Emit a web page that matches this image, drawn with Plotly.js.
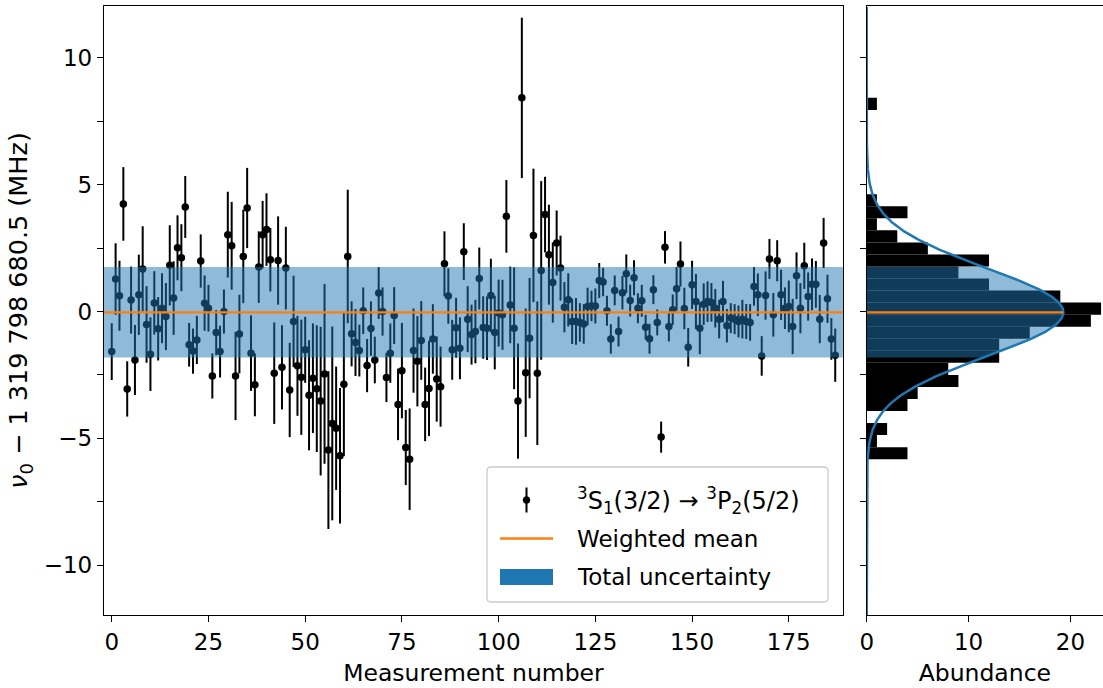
<!DOCTYPE html>
<html><head><meta charset="utf-8">
<script src="https://cdn.plot.ly/plotly-3.0.1.min.js"></script>
<style>html,body{margin:0;padding:0;background:#fff}#chart{width:1103px;height:688px}</style>
</head><body><div id="chart"></div>
<script>
// Measurement numbers
const measurementNumber = [0,1,2,3,4,5,6,7,8,9,10,11,12,13,14,15,16,17,18,19,20,21,22,23,24,25,26,27,28,29,30,31,32,33,34,35,36,37,38,39,40,41,42,43,44,45,46,47,48,49,50,51,52,53,54,55,56,57,58,59,60,61,62,63,64,65,66,67,68,69,70,71,72,73,74,75,76,77,78,79,80,81,82,83,84,85,86,87,88,89,90,91,92,93,94,95,96,97,98,99,100,101,102,103,104,105,106,107,108,109,110,111,112,113,114,115,116,117,118,119,120,121,122,123,124,125,126,127,128,129,130,131,132,133,134,135,136,137,138,139,140,141,142,143,144,145,146,147,148,149,150,151,152,153,154,155,156,157,158,159,160,161,162,163,164,165,166,167,168,169,170,171,172,173,174,175,176,177,178,179,180,181,182,183,184,185,186,187];
// nu0 - 1 319 798 680.5 (MHz)
const nuOffset = [-1.58,1.28,0.62,4.24,-3.05,0.45,-1.91,0.66,1.68,-0.51,-1.68,0.34,-0.68,0.13,-0.2,1.82,0.53,2.51,2.12,4.12,-1.31,-1.56,-1.12,1.99,0.33,0.13,-2.54,-0.83,-1.58,0.0,3.03,2.59,-2.54,-0.89,2.17,4.08,-1.64,-2.89,1.75,3.03,3.23,2.04,-2.43,2.01,-2.2,1.71,-3.09,-0.39,-2.14,-2.59,-1.51,-3.3,-2.63,-3.04,-3.53,-2.46,-5.46,-4.41,-4.6,-5.68,-2.87,2.17,-0.88,-1.22,-1.54,0.03,-2.13,-0.67,-1.91,0.73,0.0,-2.6,-1.64,-0.16,-3.66,-2.33,-5.36,-5.82,-1.54,-1.96,-1.14,-3.66,-3.03,-1.08,-2.66,-2.96,1.88,0.61,-1.51,-0.64,-1.45,2.36,-0.3,-0.91,-0.79,1.3,-0.63,-0.66,0.63,-0.83,-0.06,-0.13,3.75,0.26,-0.66,-3.53,8.42,-2.41,-1.05,3.0,-2.43,1.62,3.82,2.24,1.14,2.7,1.71,0.17,0.46,-0.39,-0.39,-0.43,-0.49,0.2,0.22,0.22,1.22,1.16,0.03,-1.08,0.83,-0.79,0.74,1.49,0.43,1.33,0.13,0.42,-0.62,-1.07,0.86,-0.43,-4.95,2.53,-0.59,0.07,0.9,1.87,0.12,-1.41,1.05,0.39,-0.66,0.29,0.39,0.36,0.13,-0.3,0.39,-0.56,-0.26,-0.3,-0.39,-0.3,-0.39,-0.43,0.99,0.66,-1.75,0.63,2.07,-0.13,2.0,0.66,0.13,0.2,-0.59,1.41,0.13,1.8,0.59,1.07,1.07,-0.3,2.7,0.5,-1.08,-1.72];
// 1-sigma uncertainties (MHz)
const nuError = [1.12,1.41,1.38,1.45,1.09,1.32,1.38,1.58,1.68,1.51,1.45,1.25,1.25,1.38,1.32,1.58,1.45,1.28,1.32,1.22,0.86,0.89,0.95,1.05,1.09,0.92,0.89,0.89,1.02,0.87,1.69,1.73,1.74,1.55,1.84,1.58,1.49,1.24,1.41,1.33,1.43,1.25,2.0,1.74,1.66,1.63,1.86,1.8,1.97,2.27,1.3,2.17,2.16,2.5,2.93,3.54,3.11,3.82,2.43,2.67,2.83,2.63,1.28,1.32,1.02,0.92,1.05,1.07,0.92,1.02,0.95,0.97,1.17,1.12,1.41,1.88,1.48,2.0,1.66,1.78,1.55,1.45,1.88,1.37,1.68,1.58,1.28,1.09,1.18,1.18,1.22,1.12,1.3,1.18,1.25,1.22,1.23,1.25,1.45,1.45,1.32,1.38,1.43,1.51,2.4,2.27,3.16,2.53,2.37,2.63,2.83,3.52,1.49,1.97,1.58,1.28,1.28,0.99,1.05,0.89,0.92,0.76,0.78,0.74,0.6,0.69,0.69,0.56,0.59,0.58,0.59,0.59,0.66,0.76,0.63,0.69,0.59,0.63,0.49,0.59,0.57,0.51,0.61,0.64,0.59,0.6,0.86,0.89,0.82,0.76,0.95,1.09,1.02,0.82,0.8,0.76,0.76,0.76,0.82,0.66,0.59,0.59,0.63,0.76,0.69,0.72,0.76,0.84,0.78,0.95,0.79,0.86,0.81,0.99,0.82,1.02,1.09,0.92,0.99,0.91,0.95,1.02,0.92,0.95,0.99,0.95,0.82,1.05];

// Summary values
const weightedMean = -0.03;
const totalUncertainty = 1.785;

// Histogram (30 bins from min to max of the data), counts from lowest bin upward
const binStart = -5.82;
const binWidth = 0.4747;
const binCounts = [4,1,2,0,4,5,9,8,13,13,16,22,23,19,12,9,12,6,3,1,4,1,0,0,0,0,0,0,0,1];

// Gaussian model drawn on the histogram
const fitMean = -0.03;
const fitSigma = 1.75;
const fitPeak = 19.3;

// Texts
const seriesName = '<sup>3</sup>S<sub>1</sub>(3/2) → <sup>3</sup>P<sub>2</sub>(5/2)';
const meanName = 'Weighted mean';
const bandName = 'Total uncertainty';
const yTitle = '<i>ν</i><sub>0</sub> − 1 319 798 680.5 (MHz)';

const tickValsX = [0,25,50,75,100,125,150,175];
const tickValsY = [-10,-5,0,5,10];
const minorY = [-7.5,-2.5,2.5,7.5];
const tickValsH = [0,10,20];

const blue = '#1f77b4', orange = '#ff7f0e';
const FONT = 'DejaVu Sans';

const binCenters = binCounts.map((c,i) => binStart + (i + 0.5) * binWidth);
const gauss = y => fitPeak * Math.exp(-0.5 * ((y - fitMean) / fitSigma) ** 2);
const curveY = [];
for (let y = -12; y <= 12.0001; y += 0.04) curveY.push(y);
const curveX = curveY.map(gauss);

const lo = weightedMean - totalUncertainty, hi = weightedMean + totalUncertainty;
const fillY = [lo], fillX = [0];
for (let y = lo; y <= hi + 1e-9; y += 0.02) { fillY.push(y); fillX.push(gauss(y)); }
fillY.push(hi); fillX.push(gauss(hi)); fillY.push(hi); fillX.push(0);

const traces = [
  {type:'scatter', mode:'markers', x:measurementNumber, y:nuOffset,
   error_y:{type:'data', array:nuError, visible:true, color:'black', thickness:2, width:0},
   marker:{color:'black', size:7.5}, name:seriesName, showlegend:false, xaxis:'x', yaxis:'y'},
  {type:'bar', orientation:'h', x:binCounts, y:binCenters, width:binWidth,
   marker:{color:'black', line:{width:0}}, showlegend:false, xaxis:'x2', yaxis:'y2'},
  {type:'scatter', mode:'none', x:fillX, y:fillY, fill:'toself', fillcolor:'rgba(31,119,180,0.5)',
   showlegend:false, xaxis:'x2', yaxis:'y2', hoverinfo:'skip'},
  {type:'scatter', mode:'lines', x:curveX, y:curveY, line:{color:blue, width:2.5},
   showlegend:false, xaxis:'x2', yaxis:'y2'},
  {type:'scatter', mode:'lines', x:[0, gauss(weightedMean)], y:[weightedMean, weightedMean],
   line:{color:orange, width:2.3}, showlegend:false, xaxis:'x2', yaxis:'y2'}
];

const axCommon = {showgrid:false, zeroline:false, linecolor:'black', linewidth:1.3,
  ticks:'outside', ticklen:6, tickwidth:1.3, tickcolor:'black', tickfont:{size:23}};

// plotting area in pixels (margins) -> helpers for the legend box in paper coordinates
const M = {l:104, r:0, t:6, b:73}, W = 1103, H = 688;
const px = v => (v - M.l) / (W - M.l - M.r);
const py = v => (H - M.b - v) / (H - M.t - M.b);

// legend geometry (pixels)
const LG = {x0:487, x1:828, y0:467, y1:602, r:4, sym0:500, sym1:553, text:575, rows:[500, 538.5, 577]};
const rx = LG.r / (W - M.l - M.r), ry = LG.r / (H - M.t - M.b);
const bx0 = px(LG.x0), bx1 = px(LG.x1), by0 = py(LG.y1), by1 = py(LG.y0);
const boxPath = `M${bx0+rx},${by0} L${bx1-rx},${by0} Q${bx1},${by0} ${bx1},${by0+ry} L${bx1},${by1-ry} Q${bx1},${by1} ${bx1-rx},${by1} L${bx0+rx},${by1} Q${bx0},${by1} ${bx0},${by1-ry} L${bx0},${by0+ry} Q${bx0},${by0} ${bx0+rx},${by0} Z`;
const symC = (LG.sym0 + LG.sym1) / 2;

const shapes = [
  {type:'rect', xref:'x domain', yref:'y', x0:0, x1:1, y0:lo, y1:hi,
   fillcolor:'rgba(31,119,180,0.5)', line:{width:0}, layer:'above'},
  {type:'line', xref:'x domain', yref:'y', x0:0, x1:1, y0:weightedMean, y1:weightedMean,
   line:{color:orange, width:2.3}, layer:'above'},
  // legend frame
  {type:'path', xref:'paper', yref:'paper', path:boxPath, fillcolor:'rgba(255,255,255,0.8)',
   line:{color:'#cccccc', width:1.3}, layer:'above'},
  // legend symbol: error bar marker
  {type:'line', xref:'paper', yref:'paper', x0:px(symC), x1:px(symC), y0:py(LG.rows[0]+12.5), y1:py(LG.rows[0]-12.5),
   line:{color:'black', width:2}, layer:'above'},
  {type:'circle', xref:'paper', yref:'paper', x0:px(symC-3.5), x1:px(symC+3.5), y0:py(LG.rows[0]+3.5), y1:py(LG.rows[0]-3.5),
   fillcolor:'black', line:{color:'black', width:0.5}, layer:'above'},
  // legend symbol: weighted mean
  {type:'line', xref:'paper', yref:'paper', x0:px(LG.sym0), x1:px(LG.sym1), y0:py(LG.rows[1]), y1:py(LG.rows[1]),
   line:{color:orange, width:2.3}, layer:'above'},
  // legend symbol: total uncertainty
  {type:'rect', xref:'paper', yref:'paper', x0:px(LG.sym0), x1:px(LG.sym1), y0:py(LG.rows[2]+8), y1:py(LG.rows[2]-8),
   fillcolor:blue, line:{width:0}, layer:'above'}
];

const annotations = [seriesName, meanName, bandName].map((t, i) => ({
  text:t, xref:'paper', yref:'paper', x:px(LG.text), y:py(LG.rows[i]), xanchor:'left', yanchor:'middle',
  showarrow:false, font:{family:FONT, size:i === 0 ? 24 : 23, color:'black'}
}));

const layout = {
  width:W, height:H,
  margin:M,
  paper_bgcolor:'white', plot_bgcolor:'white',
  font:{family:FONT, size:23, color:'black'},
  showlegend:false,
  xaxis:Object.assign({}, axCommon, {domain:[0,0.7397], range:[-2,189], tickvals:tickValsX,
    mirror:true, anchor:'y', title:{text:'Measurement number', standoff:10, font:{size:23.5}}}),
  yaxis:Object.assign({}, axCommon, {range:[-11.96,12.04], tickvals:tickValsY, mirror:true,
    anchor:'x', minor:{tickvals:minorY, ticks:'outside', ticklen:6, tickwidth:1.3, tickcolor:'black', showgrid:false},
    title:{text:yTitle, standoff:8, font:{size:25.5}}}),
  xaxis2:Object.assign({}, axCommon, {domain:[0.7635,1], range:[0,23.19], tickvals:tickValsH,
    anchor:'y2', mirror:true, title:{text:'Abundance', standoff:10, font:{size:23.5}}}),
  yaxis2:Object.assign({}, axCommon, {range:[-11.96,12.04], tickvals:tickValsY, anchor:'x2',
    showticklabels:false, minor:{tickvals:minorY, ticks:'outside', ticklen:6, tickwidth:1.3, tickcolor:'black', showgrid:false}}),
  shapes:shapes,
  annotations:annotations
};

Plotly.newPlot('chart', traces, layout, {displayModeBar:false, responsive:false});
</script></body></html>
